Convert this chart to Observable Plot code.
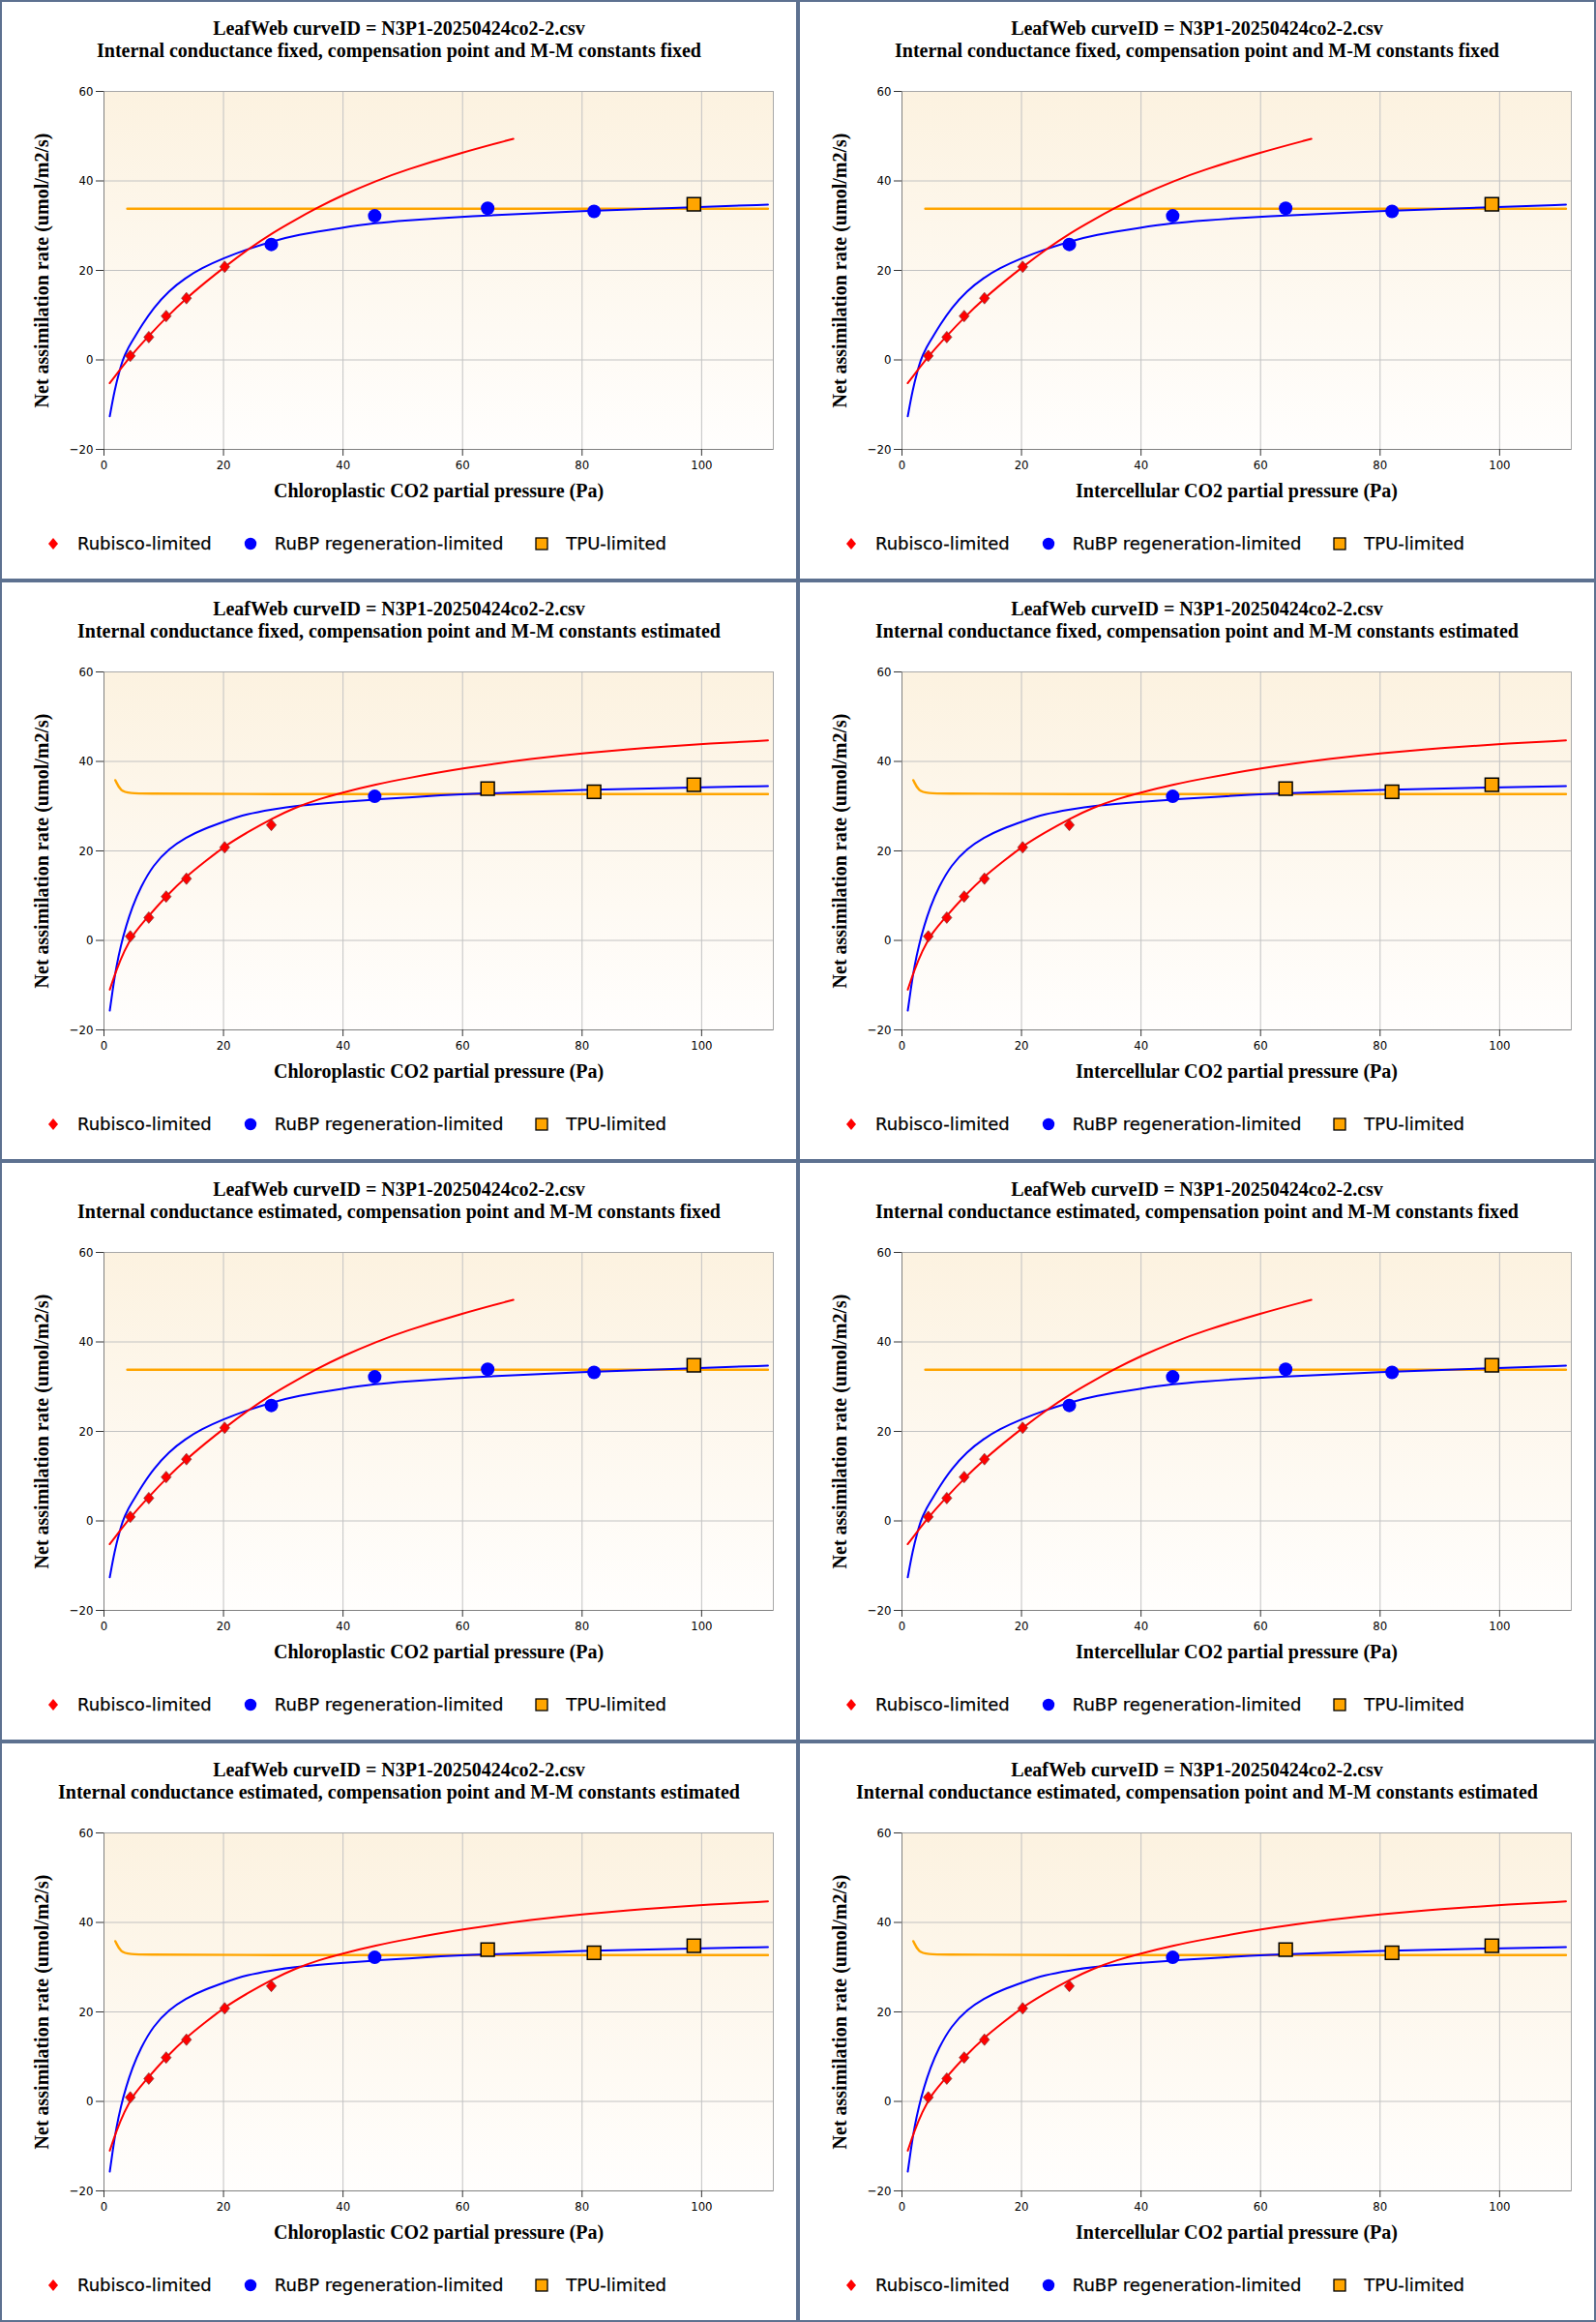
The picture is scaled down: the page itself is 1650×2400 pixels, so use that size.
<!DOCTYPE html>
<html><head><meta charset="utf-8">
<script src="https://cdn.jsdelivr.net/npm/d3@7"></script>
<script src="https://cdn.jsdelivr.net/npm/@observablehq/plot@0.6"></script>
<style>
body{margin:0;background:#fff;}
#grid{display:grid;grid-template-columns:825px 825px;grid-template-rows:repeat(4,600px);width:1650px;height:2400px;}
.cell{position:relative;box-sizing:border-box;border:2px solid #5d7190;background:#fff;overflow:hidden;}
.title{position:absolute;left:0;top:16px;width:821px;text-align:center;font-family:"Liberation Serif";font-weight:bold;font-size:20px;line-height:23px;color:#000;white-space:nowrap;}
.plot{position:absolute;left:0;top:70px;}
.legend{position:absolute;left:45px;top:550px;height:20px;display:flex;align-items:center;font-family:"DejaVu Sans";font-size:18px;line-height:20px;white-space:nowrap;color:#000;-webkit-text-stroke:0.25px #000;}
.item{display:flex;align-items:center;margin-right:32px;}
.item svg{width:16px;height:16px;margin-right:17px;}
</style></head><body><div id="grid"></div><script>
const curveTitle = "LeafWeb curveID = N3P1-20250424co2-2.csv";
const fitSubtitles = [
  "Internal conductance fixed, compensation point and M-M constants fixed",
  "Internal conductance fixed, compensation point and M-M constants estimated",
  "Internal conductance estimated, compensation point and M-M constants fixed",
  "Internal conductance estimated, compensation point and M-M constants estimated"
];
const rowModels = ["fixed", "estimated", "fixed", "estimated"];
const xAxisTitles = ["Chloroplastic CO2 partial pressure (Pa)", "Intercellular CO2 partial pressure (Pa)"];
const yAxisTitle = "Net assimilation rate (umol/m2/s)";
const legendLabels = ["Rubisco-limited", "RuBP regeneration-limited", "TPU-limited"];
const xTicks = [0, 20, 40, 60, 80, 100];
const yTicks = [-20, 0, 20, 40, 60];

// observed points
const obsCO2 = [4.4, 7.5, 10.4, 13.8, 20.2, 28.0, 45.3, 64.2, 82.0, 98.7];
const obsA = [0.9, 5.1, 9.8, 13.8, 20.8, 25.8, 32.2, 33.9, 33.2, 34.8];
const limitsFixed = ["Rubisco","Rubisco","Rubisco","Rubisco","Rubisco","RuBP","RuBP","RuBP","RuBP","TPU"];
const limitsEstimated = ["Rubisco","Rubisco","Rubisco","Rubisco","Rubisco","Rubisco","RuBP","TPU","TPU","TPU"];

// fitted curves: compensation point and M-M constants fixed
const fixRubiscoX = [0.95, 2.05, 4.4, 7.5, 10.5, 13.8, 17.1, 20.2, 24.4, 28.2, 32.0, 35.4, 40, 45.7, 50.1, 60, 68.5];
const fixRubiscoA = [-5.2, -3.3, 0.8, 5.4, 9.6, 13.8, 17.5, 20.8, 25.0, 28.4, 31.3, 33.8, 36.9, 40.1, 42.3, 46.4, 49.4];
const fixRubpX = [0.97, 1.78, 2.59, 3.15, 4.0, 5.0, 6.36, 8.25, 10.9, 13.6, 16.3, 19.95, 23.9, 28.2, 32.0, 40, 45.5, 50.1, 60, 80, 100, 111.1];
const fixRubpA = [-12.6, -6.7, -2.5, 0.1, 2.6, 4.8, 7.8, 11.6, 15.5, 18.3, 20.5, 22.7, 24.7, 26.5, 27.9, 29.6, 30.6, 31.1, 32.1, 33.3, 34.2, 34.7];
const fixTpuX = [3.9, 111.1];
const fixTpuA = [33.8, 33.8];

// fitted curves: compensation point and M-M constants estimated
const estRubiscoX = [0.97, 2.05, 3.4, 5.0, 7.6, 10.5, 13.75, 16.9, 20.1, 23.9, 28.2, 32.0, 36, 40, 45.7, 50.1, 60, 72.1, 80, 90.4, 100, 111.1];
const estRubiscoA = [-11.0, -6.7, -2.3, 1.7, 5.65, 10.0, 14.3, 17.6, 21.0, 24.1, 27.3, 29.7, 31.6, 33.1, 34.9, 36.1, 38.5, 40.7, 41.85, 43.0, 43.9, 44.7];
const estRubpX = [0.97, 1.5, 2.05, 2.86, 3.67, 4.74, 6.1, 8.25, 10.9, 13.6, 16.9, 19.95, 23.9, 28.2, 32.0, 40, 45.5, 50.1, 60, 80, 100, 111.1];
const estRubpA = [-15.7, -10.7, -5.9, -0.9, 3.1, 7.5, 11.8, 16.9, 20.5, 23.0, 25.0, 26.5, 28.3, 29.3, 30.1, 31.0, 31.5, 31.9, 32.7, 33.7, 34.2, 34.5];
const estTpuX = [1.9, 2.8, 4.25, 7.55, 13.4, 111.1];
const estTpuA = [35.8, 33.3, 32.9, 32.8, 32.7, 32.7];

const colors = {Rubisco: "#ff0000", RuBP: "#0000ff", TPU: "#ffa500"};

const models = {
  fixed: {limits: limitsFixed, rub: [fixRubiscoX, fixRubiscoA], rubp: [fixRubpX, fixRubpA], tpu: [fixTpuX, fixTpuA]},
  estimated: {limits: limitsEstimated, rub: [estRubiscoX, estRubiscoA], rubp: [estRubpX, estRubpA], tpu: [estTpuX, estTpuA]}
};

const toRows = ([X, A]) => X.map((x, i) => ({x, a: A[i]}));
const serif = "Liberation Serif";

// slightly tall diamond symbol
const tallDiamond = {
  draw(ctx, size) {
    const s = Math.sqrt(size / Math.PI);
    ctx.moveTo(0, -s * 1.2);
    ctx.lineTo(s * 1.03, 0);
    ctx.lineTo(0, s * 1.2);
    ctx.lineTo(-s * 1.03, 0);
    ctx.closePath();
  }
};

function makePlot(modelName, xLabel, gid) {
  const m = models[modelName];
  const obs = obsCO2.map((x, i) => ({x, a: obsA[i], lim: m.limits[i]}));
  const svg = Plot.plot({
    width: 821, height: 460,
    marginLeft: 105, marginRight: 24, marginTop: 22, marginBottom: 68,
    x: {domain: [0, 112]},
    y: {domain: [-20, 60]},
    style: {fontFamily: "'DejaVu Sans Condensed'", fontSize: "13px", color: "black", background: "transparent", overflow: "visible"},
    marks: [
      Plot.frame({fill: `url(#${gid})`, stroke: null}),
      Plot.gridX(xTicks, {stroke: "#c2c2c2", strokeOpacity: 1, strokeWidth: 1}),
      Plot.gridY(yTicks, {stroke: "#c2c2c2", strokeOpacity: 1, strokeWidth: 1}),
      Plot.frame({stroke: "#a8a8a8"}),
      Plot.ruleX([0], {stroke: "#808080"}),
      Plot.ruleY([-20], {stroke: "#808080"}),
      Plot.axisX(xTicks, {tickSize: 7, tickPadding: 4, stroke: "#333", label: null}),
      Plot.axisY(yTicks, {tickSize: 8, tickPadding: 3, stroke: "#333", label: null}),
      Plot.line(toRows(m.tpu), {x: "x", y: "a", stroke: colors.TPU, strokeWidth: 2.4, curve: "basis"}),
      Plot.line(toRows(m.rubp), {x: "x", y: "a", stroke: colors.RuBP, strokeWidth: 2, curve: "basis"}),
      Plot.line(toRows(m.rub), {x: "x", y: "a", stroke: colors.Rubisco, strokeWidth: 2, curve: "basis"}),
      Plot.dot(obs.filter(d => d.lim === "Rubisco"), {x: "x", y: "a", symbol: tallDiamond, r: 5, fill: colors.Rubisco, stroke: "#7a3535", strokeWidth: 0.7}),
      Plot.dot(obs.filter(d => d.lim === "RuBP"), {x: "x", y: "a", symbol: "circle", r: 7, fill: colors.RuBP}),
      Plot.dot(obs.filter(d => d.lim === "TPU"), {x: "x", y: "a", symbol: "square", r: 7.8, fill: colors.TPU, stroke: "#000", strokeWidth: 1.5}),
      Plot.text([yAxisTitle], {frameAnchor: "left", text: d => d, rotate: -90, dx: -64, textAnchor: "middle", lineAnchor: "middle", fontFamily: serif, fontWeight: "bold", fontSize: 20, fill: "#000"}),
      Plot.text([xLabel], {frameAnchor: "bottom", text: d => d, dy: 43, textAnchor: "middle", lineAnchor: "middle", fontFamily: serif, fontWeight: "bold", fontSize: 20, fill: "#000"})
    ]
  });
  const ns = "http://www.w3.org/2000/svg";
  const defs = document.createElementNS(ns, "defs");
  defs.innerHTML = `<linearGradient id="${gid}" x1="0" y1="0" x2="0" y2="1"><stop offset="0" stop-color="#fcf2e0"/><stop offset="1" stop-color="#fffefd"/></linearGradient>`;
  svg.insertBefore(defs, svg.firstChild);
  return svg;
}

function legendSwatch(kind) {
  if (kind === 0) return `<svg viewBox="0 0 16 16"><path d="M8 2 L13 8 L8 14 L3 8 Z" fill="${colors.Rubisco}"/></svg>`;
  if (kind === 1) return `<svg viewBox="0 0 16 16"><circle cx="8" cy="8" r="6.2" fill="${colors.RuBP}"/></svg>`;
  return `<svg viewBox="0 0 16 16"><rect x="2" y="2" width="12" height="12" fill="${colors.TPU}" stroke="#000" stroke-width="1.3"/></svg>`;
}

const grid = document.getElementById("grid");
let n = 0;
rowModels.forEach((model, r) => {
  xAxisTitles.forEach((xl, c) => {
    const cell = document.createElement("div");
    cell.className = "cell";
    const t = document.createElement("div");
    t.className = "title";
    t.innerHTML = `${curveTitle}<br>${fitSubtitles[r]}`;
    cell.appendChild(t);
    const p = document.createElement("div");
    p.className = "plot";
    p.appendChild(makePlot(model, xl, "bg" + (n++)));
    cell.appendChild(p);
    const lg = document.createElement("div");
    lg.className = "legend";
    lg.innerHTML = legendLabels.map((l, i) => `<div class="item">${legendSwatch(i)}<span>${l}</span></div>`).join("");
    cell.appendChild(lg);
    grid.appendChild(cell);
  });
});
</script></body></html>
